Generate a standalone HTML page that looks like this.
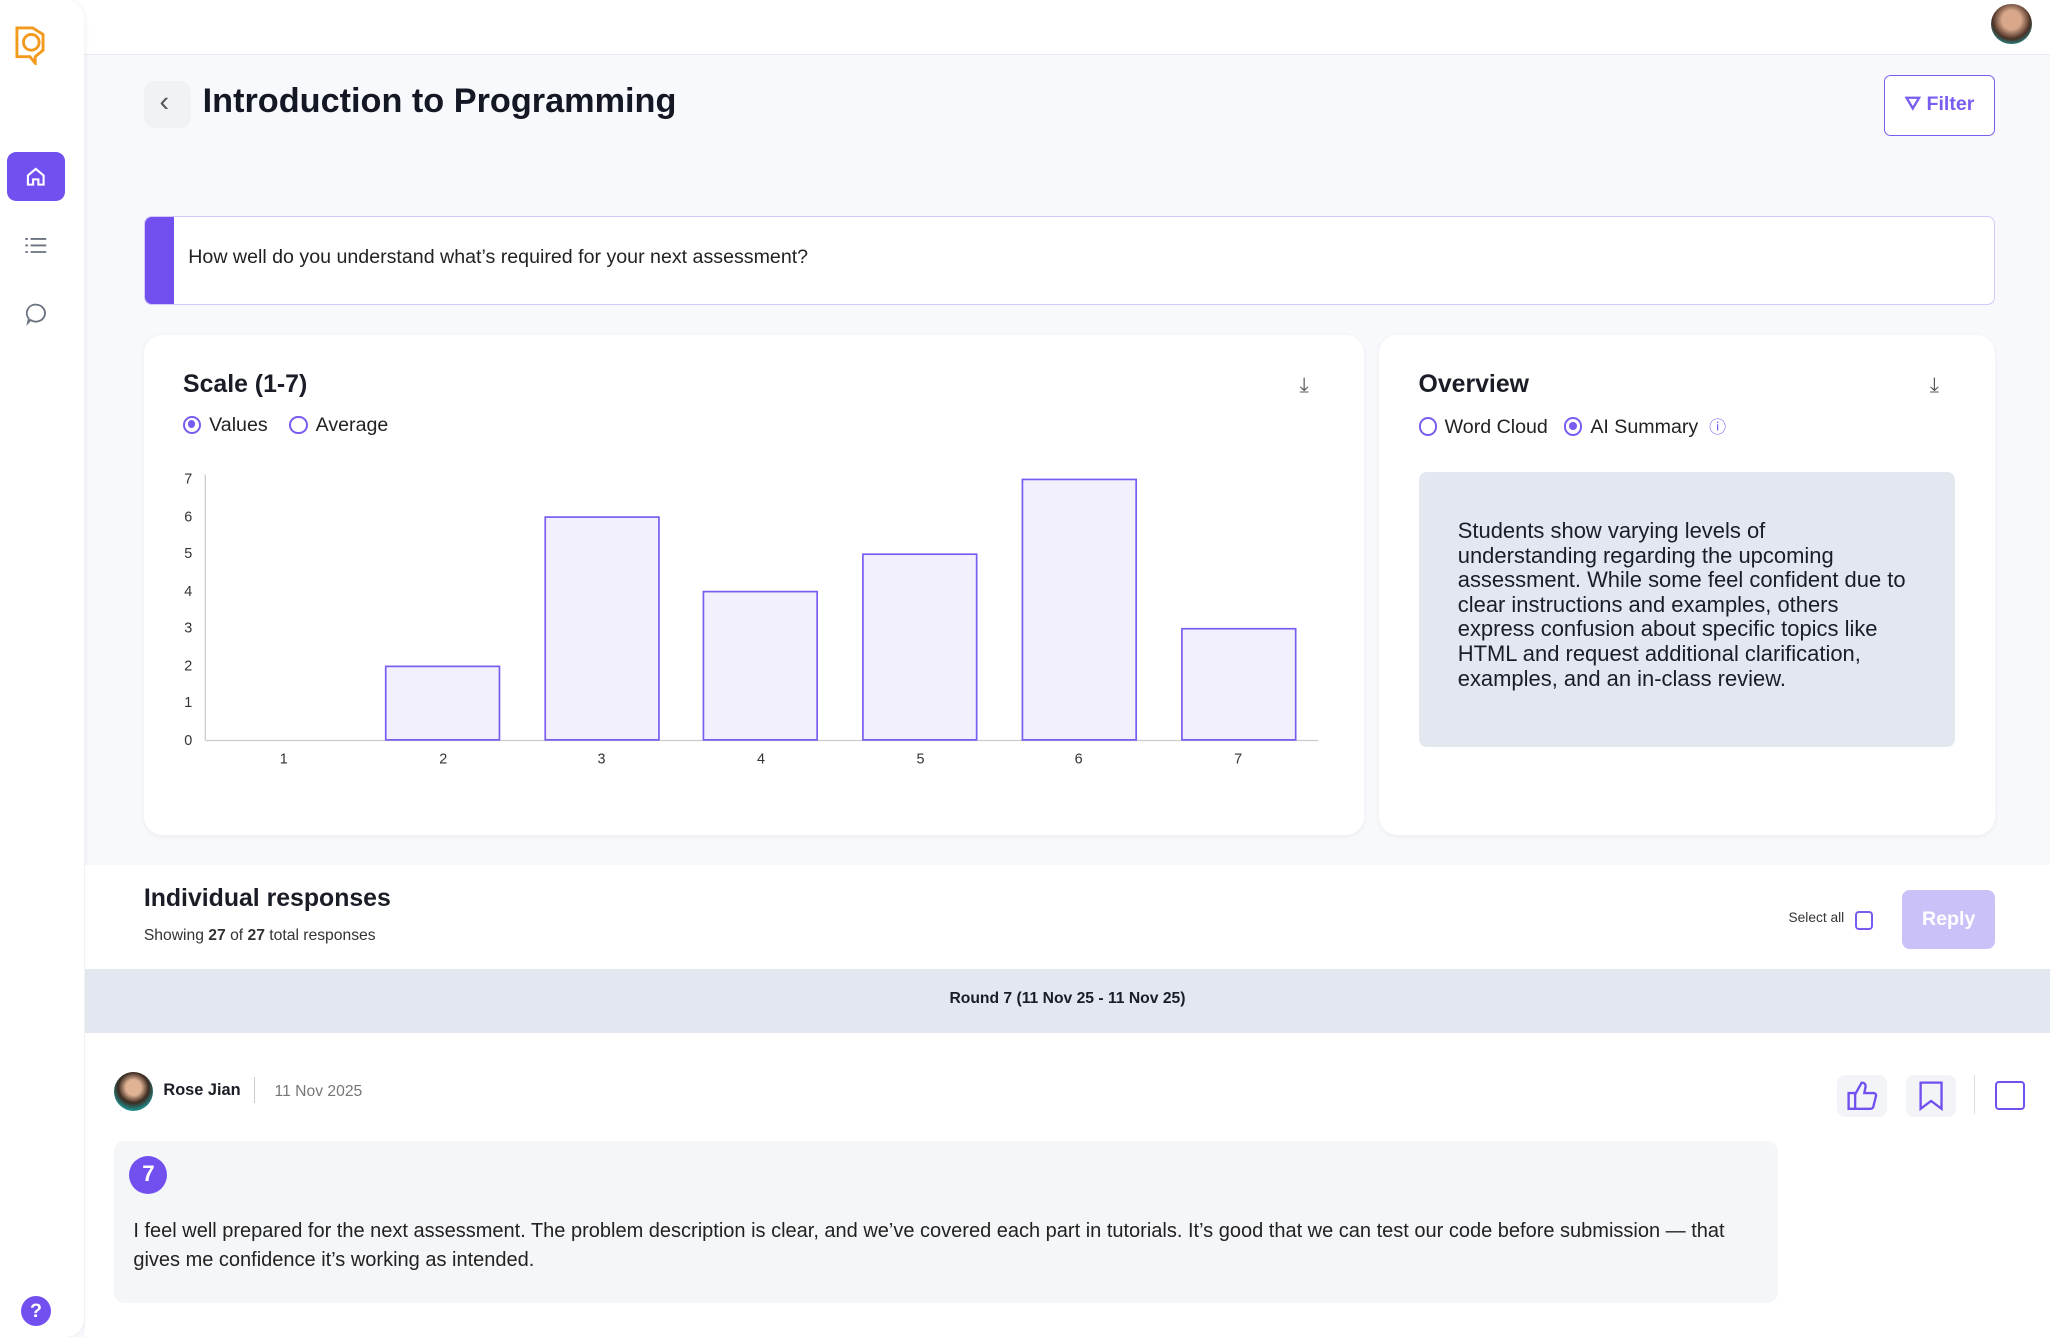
<!DOCTYPE html>
<html><head><meta charset="utf-8"><style>
*{margin:0;padding:0;box-sizing:border-box}
html,body{width:2050px;height:1337px;overflow:hidden;background:#f8f9fc}
#w{zoom:1.30740;width:1568px;height:1023px;position:relative;font-family:"Liberation Sans",sans-serif;color:#1a1d26}
.a{position:absolute}
.card{background:#fff;border-radius:14px;box-shadow:0 1px 4px rgba(0,0,0,.06)}
.rad{display:inline-block;width:14px;height:14px;border:2px solid #7a5cf0;border-radius:50%;vertical-align:-2px;margin-right:6px;position:relative}
.rad.on::after{content:"";position:absolute;left:2px;top:2px;width:6px;height:6px;border-radius:50%;background:#7a5cf0}
</style></head><body><div id="w">
<div class="a" style="left:0;top:0;width:1568px;height:42px;background:#fff;border-bottom:1px solid #e8ebf2"></div>
<div class="a" style="left:0;top:0;width:64px;height:1023px;background:#fff;border-radius:0 14px 14px 0;box-shadow:1px 0 4px rgba(0,0,0,.05)"></div>
<svg class="a" style="left:10px;top:18px" width="30" height="32" viewBox="0 0 30 32"><path d="M3 3h12l8 5v12l-6 5v5l-4-5H3z" fill="none" stroke="#f39a1e" stroke-width="2.2"/><circle cx="14" cy="14" r="6" fill="none" stroke="#f39a1e" stroke-width="2.2"/></svg>
<div class="a" style="left:5px;top:116px;width:45px;height:38px;background:#7250f0;border-radius:7px"></div>
<svg class="a" style="left:18px;top:126px" width="18" height="18" viewBox="0 0 18 18"><path d="M3 8l6-5 6 5v7H11v-4H7v4H3z" fill="none" stroke="#fff" stroke-width="1.6"/></svg>
<svg class="a" style="left:18px;top:180px" width="18" height="16"><g stroke="#6b7280" stroke-width="1.4"><path d="M5 3h12M5 8h12M5 13h12M1 3h2M1 8h2M1 13h2"/></g></svg>
<svg class="a" style="left:18px;top:231px" width="18" height="18"><path d="M9 2a7 6.5 0 1 1-4 11.8L3 16l.7-3.3A6.5 6.5 0 0 1 9 2z" fill="none" stroke="#6b7280" stroke-width="1.4"/></svg>
<div class="a" style="left:16px;top:991px;width:23px;height:23px;border-radius:50%;background:#7250f0;color:#fff;font-weight:bold;font-size:15px;text-align:center;line-height:23px">?</div>
<div class="a" style="left:1523px;top:3px;width:31px;height:31px;border-radius:50%;background:radial-gradient(circle at 50% 40%,#d9a88a 30%,#4a3025 60%,#1f8a8a 80%)"></div>

<div class="a" style="left:110px;top:62px;width:36px;height:36px;border-radius:8px;background:#f1f2f6"></div>
<div class="a" style="left:122px;top:66px;font-size:22px;color:#555">‹</div>
<div class="a" style="left:155px;top:63px;font-size:26.2px;font-weight:bold;color:#141824">Introduction to Programming</div>
<div class="a" style="left:1441px;top:57px;width:85px;height:47px;border:1.5px solid #7a5cf0;border-radius:5px;background:#fff;color:#7a5cf0;font-weight:bold;font-size:15px;text-align:center;line-height:44px">⛛ Filter</div>

<div class="a" style="left:110px;top:165px;width:1416px;height:68px;background:#fff;border:1px solid #d2c8fb;border-radius:6px;overflow:hidden"><div style="position:absolute;left:0;top:0;width:22px;height:68px;background:#7250f0"></div></div>
<div class="a" style="left:144px;top:188px;font-size:15px;color:#222">How well do you understand what’s required for your next assessment?</div>

<div class="a card" style="left:110px;top:256px;width:933px;height:383px"></div>
<div class="a" style="left:140px;top:284px;font-size:19px;font-weight:bold">Scale (1-7)</div>
<div class="a" style="left:140px;top:317px;font-size:15px;color:#222"><span class="rad on"></span>Values&nbsp;&nbsp;&nbsp;&nbsp;<span class="rad"></span>Average</div>
<div class="a" style="left:994px;top:286px;font-size:16px;color:#555">⤓</div>
<svg class="a" style="left:130px;top:355px" width="900" height="240" font-family="Liberation Sans" font-size="11" fill="#333">
<g text-anchor="end"><text x="17" y="215">0</text><text x="17" y="186">1</text><text x="17" y="158">2</text><text x="17" y="129">3</text><text x="17" y="101">4</text><text x="17" y="72">5</text><text x="17" y="44">6</text><text x="17" y="15">7</text></g>
<line x1="27" y1="8" x2="27" y2="211" stroke="#ccc"/><line x1="27" y1="211.5" x2="878" y2="211.5" stroke="#ccc"/>
<g fill="#f3f0fe" stroke="#7a5cf0" stroke-width="1.3">
<rect x="165" y="154.8" width="87" height="56.2"/><rect x="287" y="40.6" width="87" height="170.4"/><rect x="408" y="97.6" width="87" height="113.4"/><rect x="530" y="69" width="87" height="142"/><rect x="652" y="11.8" width="87" height="199.2"/><rect x="774" y="126" width="87" height="85"/></g>
<g text-anchor="middle"><text x="87" y="229">1</text><text x="209" y="229">2</text><text x="330" y="229">3</text><text x="452" y="229">4</text><text x="574" y="229">5</text><text x="695" y="229">6</text><text x="817" y="229">7</text></g>
</svg>

<div class="a card" style="left:1055px;top:256px;width:471px;height:383px"></div>
<div class="a" style="left:1085px;top:284px;font-size:19px;font-weight:bold">Overview</div>
<div class="a" style="left:1085px;top:316px;font-size:15px;color:#222"><span class="rad"></span>Word Cloud&nbsp;&nbsp;&nbsp;<span class="rad on"></span>AI Summary&nbsp; <span style="color:#7a5cf0;font-size:13px">ⓘ</span></div>
<div class="a" style="left:1476px;top:286px;font-size:16px;color:#555">⤓</div>
<div class="a" style="left:1085px;top:361px;width:410px;height:210px;background:#e3e8f0;border-radius:6px"></div>
<div class="a" style="left:1115px;top:397px;white-space:nowrap;font-size:16.8px;line-height:18.8px;color:#1a1d26">Students show varying levels of<br>understanding regarding the upcoming<br>assessment. While some feel confident due to<br>clear instructions and examples, others<br>express confusion about specific topics like<br>HTML and request additional clarification,<br>examples, and an in-class review.</div>

<div class="a" style="left:65px;top:662px;width:1503px;height:79px;background:#fff"></div>
<div class="a" style="left:110px;top:677px;font-size:19px;font-weight:bold">Individual responses</div>
<div class="a" style="left:110px;top:709px;font-size:12px;color:#333">Showing <b>27</b> of <b>27</b> total responses</div>
<div class="a" style="left:1368px;top:696px;font-size:10.5px;color:#333">Select all</div>
<div class="a" style="left:1419px;top:697px;width:14px;height:14px;border:2px solid #7a5cf0;border-radius:3px"></div>
<div class="a" style="left:1455px;top:681px;width:71px;height:45px;background:#cbc1f9;border-radius:6px;color:#fff;font-weight:bold;font-size:15px;text-align:center;line-height:45px">Reply</div>
<div class="a" style="left:65px;top:741px;width:1503px;height:49px;background:#e3e8f0"></div>
<div class="a" style="left:65px;top:757px;width:1503px;text-align:center;font-size:12px;font-weight:bold">Round 7 (11 Nov 25 - 11 Nov 25)</div>
<div class="a" style="left:65px;top:790px;width:1503px;height:233px;background:#fff"></div>
<div class="a" style="left:87px;top:820px;width:30px;height:30px;border-radius:50%;background:radial-gradient(circle at 50% 40%,#e0b394 25%,#3c2a20 50%,#1d9090 75%,#eee 90%)"></div>
<div class="a" style="left:125px;top:827px;font-size:12.5px;font-weight:bold">Rose Jian</div>
<div class="a" style="left:194px;top:824px;width:1px;height:20px;background:#ccc"></div>
<div class="a" style="left:210px;top:828px;font-size:12px;color:#777">11 Nov 2025</div>
<div class="a" style="left:1405px;top:822px;width:38px;height:32px;border-radius:6px;background:#f3f4f7"></div>
<svg class="a" style="left:1412px;top:826px" width="25" height="24"><path d="M2 10h5v12H2zM7 11l5-9c2 0 3 1 3 3l-1 5h7c1.5 0 2 1 2 2l-2 8c0 1-1 2-2 2H7" fill="none" stroke="#7250f0" stroke-width="1.8"/></svg>
<div class="a" style="left:1458px;top:822px;width:38px;height:32px;border-radius:6px;background:#f3f4f7"></div>
<svg class="a" style="left:1467px;top:826px" width="20" height="24"><path d="M2 2h16v20l-8-6-8 6z" fill="none" stroke="#7250f0" stroke-width="1.8"/></svg>
<div class="a" style="left:1510px;top:822px;width:1px;height:30px;background:#ddd"></div>
<div class="a" style="left:1526px;top:827px;width:23px;height:22px;border:2px solid #7250f0;border-radius:3px"></div>
<div class="a" style="left:87px;top:873px;width:1273px;height:124px;background:#f5f6f8;border-radius:8px"></div>
<div class="a" style="left:99px;top:884px;width:29px;height:29px;border-radius:50%;background:#7250f0;color:#fff;font-weight:bold;font-size:17px;text-align:center;line-height:27px">7</div>
<div class="a" style="left:102px;top:931px;white-space:nowrap;font-size:15.3px;line-height:22px;color:#222">I feel well prepared for the next assessment. The problem description is clear, and we’ve covered each part in tutorials. It’s good that we can test our code before submission — that<br>gives me confidence it’s working as intended.</div>
</div></body></html>
